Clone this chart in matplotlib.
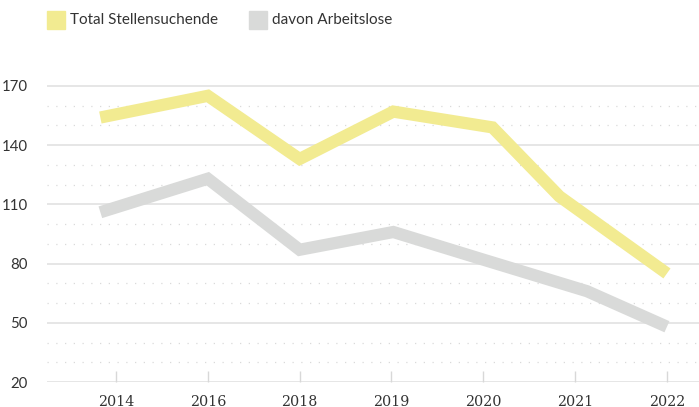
import matplotlib.pyplot as plt
from matplotlib.patches import Rectangle

# Jahre (Kategorien auf der x-Achse)
jahre = ["2014", "2016", "2018", "2019", "2020", "2021", "2022"]

# Lage der Messpunkte entlang der Achse (in Kategorie-Einheiten, wie im Bild)
x_total = [-0.17, 1.0, 2.0, 3.02, 4.1, 4.83, 6.0]
x_arbeitslos = [-0.17, 1.0, 2.0, 3.02, 4.0, 5.13, 6.0]

# Werte (in Tausend)
total_stellensuchende = [154, 165, 133, 157, 149, 114, 75]
davon_arbeitslose = [106, 123, 87, 96, 82, 66, 48]

y_major = [20, 50, 80, 110, 140, 170]
y_minor = [30, 40, 60, 70, 90, 100, 120, 130, 150, 160]

GELB = "#f2eb91"
GRAU = "#d9dad9"
TEXT = "#333333"

fig = plt.figure(figsize=(6.99, 4.07), dpi=100)
ax = fig.add_axes([47 / 699, 25 / 407, 652 / 699, 300 / 407])

# Gitterlinien: durchgezogen für Hauptwerte, gepunktet dazwischen
for y in y_major:
    ax.axhline(y, color="#e4e4e4", lw=1.3, zorder=1)
for y in y_minor:
    ax.axhline(y, color="#dadada", lw=0.9, linestyle=(0, (1, 6)), zorder=1)

ax.plot(x_total, total_stellensuchende, color=GELB, lw=8.8,
        solid_joinstyle="miter", solid_capstyle="butt", zorder=3)
ax.plot(x_arbeitslos, davon_arbeitslose, color=GRAU, lw=8.8,
        solid_joinstyle="miter", solid_capstyle="butt", zorder=2)

ax.set_xlim(-0.751, 6.349)
ax.set_ylim(20, 172)

ax.set_xticks(range(len(jahre)))
ax.set_xticklabels(jahre, fontsize=10.3, color=TEXT, family="DejaVu Serif")
ax.set_yticks(y_major)
ax.set_yticklabels([str(v) for v in y_major], fontsize=10.8, color=TEXT, family="Lato")

ax.tick_params(axis="x", direction="in", length=8, width=1, color="#d8d8d8", pad=9)
ax.tick_params(axis="y", length=0, pad=14)

for s in ax.spines.values():
    s.set_visible(False)

# Legende oben links
fig.patches.append(Rectangle((47 / 699, 1 - 29 / 407), 18 / 699, 18 / 407,
                             transform=fig.transFigure, color=GELB))
fig.text(70 / 699, 1 - 20 / 407, "Total Stellensuchende", fontsize=11,
         color=TEXT, family="Lato", va="center")
fig.patches.append(Rectangle((249 / 699, 1 - 29 / 407), 18 / 699, 18 / 407,
                             transform=fig.transFigure, color=GRAU))
fig.text(272 / 699, 1 - 20 / 407, "davon Arbeitslose", fontsize=11,
         color=TEXT, family="Lato", va="center")

fig.savefig("out.png", dpi=100)
